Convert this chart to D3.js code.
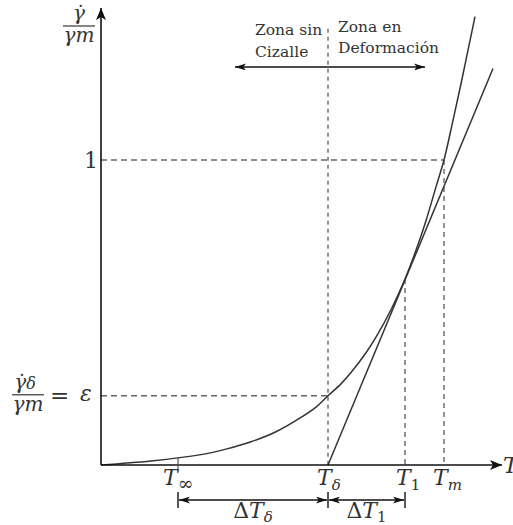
<!DOCTYPE html>
<html><head><meta charset="utf-8">
<script src="https://cdn.jsdelivr.net/npm/d3@7"></script>
<style>body{margin:0;background:#fff}svg{display:block}
svg text{font-family:"DejaVu Serif",serif;}
</style>
</head><body>
<script>
// ---- data ----
const curveT = [0, 0.5, 1.0, 1.25, 1.5, 1.75, 2.0, 2.15, 2.27, 2.4, 2.5, 2.65, 2.75, 2.9, 3.04, 3.15, 3.25, 3.35, 3.43, 3.52, 3.6, 3.67, 3.74];
const curveY = [0.0, 0.013, 0.034, 0.052, 0.076, 0.109, 0.156, 0.19, 0.227, 0.266, 0.303, 0.368, 0.419, 0.509, 0.61, 0.704, 0.801, 0.912, 1.0, 1.13, 1.25, 1.36, 1.47];
const tangentT = [2.27, 3.92];
const tangentY = [0.0, 1.30];
const tickBase = ["T", "T", "T", "T"];
const tickSub = ["∞", "δ", "1", "m"];
const tickT = [0.77, 2.27, 3.04, 3.43];
const tickShift = [-15, -11, -9, -11];
const epsValue = 0.227;
const oneValue = 1.0;
const zoneLeft = ["Zona sin", "Cizalle"];
const zoneRight = ["Zona en", "Deformación"];
const deltaLabels = [{base:"ΔT", sub:"δ", from:0.77, to:2.27}, {base:"ΔT", sub:"1", from:2.27, to:3.04}];

const W = 513, H = 525;
const x = d3.scaleLinear().domain([0, 4.0]).range([101, 501]);
const y = d3.scaleLinear().domain([0, 1]).range([465, 160]);

const svg = d3.select("body").append("svg").attr("width", W).attr("height", H);
const defs = svg.append("defs");
function marker(id, w, h) {
  defs.append("marker").attr("id", id).attr("viewBox", `0 0 ${w} ${h}`)
    .attr("refX", w).attr("refY", h/2).attr("markerWidth", w).attr("markerHeight", h)
    .attr("markerUnits", "userSpaceOnUse").attr("orient", "auto-start-reverse")
    .append("path").attr("d", `M0,0L${w},${h/2}L0,${h}L${w*0.25},${h/2}Z`).attr("fill", "#111");
}
marker("axArrow", 12, 10);
marker("smArrow", 11, 7);

const textCol = "#333";
const dashCol = "#666";

// dashed guide lines
const tS = tickT[1], t1 = tickT[2], tM = tickT[3];
const guides = [
  [[0, oneValue], [tM, oneValue], "6,4"],
  [[tM, oneValue], [tM, 0], "5,4"],
  [[0, epsValue], [tS, epsValue], "6,4"],
  [[tS, 1.43], [tS, 0], "4,4"],
  [[t1, curveY[curveT.indexOf(3.04)]], [t1, 0], "5,4"]
];
guides.forEach(g => {
  svg.append("line").attr("x1", x(g[0][0])).attr("y1", y(g[0][1]))
    .attr("x2", x(g[1][0])).attr("y2", y(g[1][1]))
    .attr("stroke", dashCol).attr("stroke-width", 1.4).attr("stroke-dasharray", g[2]);
});

// curve
const pts = curveT.map((t, i) => [t, curveY[i]]);
svg.append("path").datum(pts)
  .attr("d", d3.line().x(d => x(d[0])).y(d => y(d[1])).curve(d3.curveCatmullRom.alpha(0.5)))
  .attr("fill", "none").attr("stroke", "#333").attr("stroke-width", 1.5);

// tangent
svg.append("line").attr("x1", x(tangentT[0])).attr("y1", y(tangentY[0]))
  .attr("x2", x(tangentT[1])).attr("y2", y(tangentY[1]))
  .attr("stroke", "#333").attr("stroke-width", 1.5);

// axes
svg.append("line").attr("x1", x(0)).attr("y1", y(0)).attr("x2", x(0)).attr("y2", y(1.498))
  .attr("stroke", "#111").attr("stroke-width", 1.6).attr("marker-end", "url(#axArrow)");
svg.append("line").attr("x1", x(0)).attr("y1", y(0)).attr("x2", x(4.01)).attr("y2", y(0))
  .attr("stroke", "#111").attr("stroke-width", 1.6).attr("marker-end", "url(#axArrow)");
svg.append("line").attr("x1", x(tickT[0])).attr("x2", x(tickT[0]))
  .attr("y1", y(0) - 7).attr("y2", y(0) + 4).attr("stroke", "#555").attr("stroke-width", 1.2);

// axis label T
svg.append("text").attr("x", x(4.02)).attr("y", y(0) + 8)
  .attr("font-style", "italic").attr("font-size", 23)
  .attr("fill", textCol).text("T");

// x tick labels
tickT.forEach((t, i) => {
  const g = svg.append("text").attr("x", x(t) + tickShift[i]).attr("y", y(0) + 20)
    .attr("font-size", 22).attr("fill", textCol);
  g.append("tspan").attr("font-style", "italic").text(tickBase[i]);
  g.append("tspan").attr("font-size", tickSub[i] === "∞" ? 19 : 15).attr("dy", 5)
    .attr("font-style", tickSub[i] === "1" || tickSub[i] === "∞" ? "normal" : "italic")
    .text(tickSub[i]);
});

// "1" label
svg.append("text").attr("x", x(0) - 3).attr("y", y(oneValue) + 8).attr("text-anchor", "end")
  .attr("font-size", 22).attr("fill", textCol).text("1");

// fractions
function fraction(cx, barY, numSub, barW) {
  const n = svg.append("text").attr("x", numSub ? cx - 3 : cx).attr("y", barY - 6).attr("text-anchor", "middle")
    .attr("font-style", "italic").attr("font-size", 20).attr("fill", textCol);
  n.append("tspan").text("γ\u0307");
  if (numSub) n.append("tspan").attr("font-size", 16).text(numSub);
  svg.append("line").attr("x1", cx - barW/2).attr("x2", cx + barW/2).attr("y1", barY).attr("y2", barY)
    .attr("stroke", "#444").attr("stroke-width", 1.3);
  svg.append("text").attr("x", cx).attr("y", barY + 16).attr("text-anchor", "middle")
    .attr("font-style", "italic").attr("font-size", 20).attr("fill", textCol)
    .text("γm");
}
fraction(79, 26, null, 32);
fraction(28, y(epsValue) - 1, "δ", 32);
svg.append("text").attr("x", 50).attr("y", y(epsValue) + 7)
  .attr("font-size", 23).attr("fill", textCol).text("=");
svg.append("text").attr("x", 80).attr("y", y(epsValue) + 5)
  .attr("font-style", "italic").attr("font-size", 22).attr("fill", textCol).text("ε");

// zone annotations
const zoneY = 1.305;
svg.append("line").attr("x1", x(1.34)).attr("x2", x(3.24)).attr("y1", y(zoneY)).attr("y2", y(zoneY))
  .attr("stroke", "#111").attr("stroke-width", 1.5)
  .attr("marker-start", "url(#smArrow)").attr("marker-end", "url(#smArrow)");
zoneLeft.forEach((s, i) => {
  svg.append("text").attr("x", x(1.54)).attr("y", 35 + i * 22)
    .attr("font-size", 15.5).attr("fill", textCol).text(s);
});
zoneRight.forEach((s, i) => {
  svg.append("text").attr("x", x(2.37)).attr("y", 32 + i * 21)
    .attr("font-size", 15.5).attr("fill", textCol).text(s);
});

// delta arrows
const arrY = -0.115;
const bars = [0.77, 2.27, 3.04];
bars.forEach(b => {
  svg.append("line").attr("x1", x(b)).attr("x2", x(b)).attr("y1", y(arrY) - 8).attr("y2", y(arrY) + 8)
    .attr("stroke", "#111").attr("stroke-width", 1.4);
});
deltaLabels.forEach(d => {
  svg.append("line").attr("x1", x(d.from) + 1).attr("x2", x(d.to) - 1).attr("y1", y(arrY)).attr("y2", y(arrY))
    .attr("stroke", "#111").attr("stroke-width", 1.5)
    .attr("marker-start", "url(#smArrow)").attr("marker-end", "url(#smArrow)");
  const cx = (x(d.from) + x(d.to)) / 2;
  const t = svg.append("text").attr("x", cx).attr("y", y(arrY) + 18).attr("text-anchor", "middle")
    .attr("font-size", 22).attr("fill", textCol);
  t.append("tspan").text("Δ");
  t.append("tspan").attr("font-style", "italic").text("T");
  t.append("tspan").attr("font-size", 15).attr("dy", 4)
    .attr("font-style", d.sub === "1" ? "normal" : "italic").text(d.sub);
});
</script>
</body></html>
